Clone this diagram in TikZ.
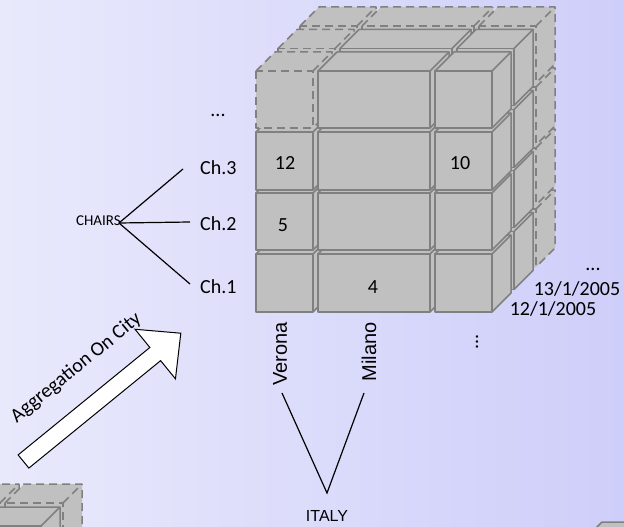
\documentclass[tikz,border=0pt]{standalone}
\usepackage{fontspec}
\setmainfont{Carlito}
\newfontfamily\arialf{Liberation Sans}
\definecolor{cellgray}{RGB}{192,192,192}
\definecolor{edgegray}{RGB}{128,128,128}
\definecolor{bgleft}{RGB}{233,233,252}
\definecolor{bgright}{RGB}{206,206,250}
\tikzset{
  cellbase/.style={line width=1.5pt, line join=round, draw=edgegray, fill=cellgray},
  solidcell/.style={cellbase},
  dashcell/.style={cellbase, dash pattern=on 8pt off 5pt},
  lbl/.style={font=\fontsize{20}{24}\selectfont, inner sep=0pt},
  smalllbl/.style={font=\fontsize{15}{18}\selectfont, inner sep=0pt},
  citylbl/.style={font=\arialf\fontsize{20}{24}\selectfont, inner sep=0pt, rotate=90, anchor=east},
  treeline/.style={line width=1.2pt, draw=black},
  blockarrow/.style={fill=white, draw=black, line width=1pt, line join=miter}
}
\newcommand\drawcell[5]{%
  \path[#5, draw=none] (#1,#4) -- (#3,#4) -- ({#3+19},{#4-19}) -- ({#3+19},{#2-19}) -- ({#1+19},{#2-19}) -- (#1,#2) -- cycle;
  \draw[#5, fill=none] (#1,#2) rectangle (#3,#4);
  \draw[#5, fill=none] (#1,#2) -- ({#1+19},{#2-19}) -- ({#3+19},{#2-19}) -- ({#3+19},{#4-19}) -- (#3,#4);
  \draw[#5, fill=none] (#3,#2) -- ({#3+19},{#2-19});
}
\begin{document}
\begin{tikzpicture}[x=1pt,y=-1pt]
\useasboundingbox (0,0) rectangle (624,527);
\begin{scope}
\clip (0,0) rectangle (624,527);
\fill[left color=bgleft, right color=bgright] (0,0) rectangle (624,527);
% partial cube bottom-left
\drawcell{-55}{503}{0}{580}{dashcell}
\drawcell{5}{503}{63}{580}{dashcell}
\drawcell{-85}{526}{-25}{600}{solidcell}
\drawcell{-20}{526}{41}{600}{solidcell}
% partial cube bottom-right
\drawcell{583}{541}{700}{620}{solidcell}
% main cube
\foreach \l in {2,1,0} {
  \begin{scope}[shift={(22*\l,-22.5*\l)}]
  \foreach \r/\ya/\yb in {4/254/312, 3/193/250, 2/132/190, 1/71/128} {
    \foreach \c/\xa/\xb in {1/256/313, 2/318/430, 3/435/492} {
      \pgfmathtruncatemacro\dsh{or(\l==2, and(\r==1,\c==1))}
      \ifnum\dsh=1
        \drawcell{\xa}{\ya}{\xb}{\yb}{dashcell}
      \else
        \drawcell{\xa}{\ya}{\xb}{\yb}{solidcell}
      \fi
    }
  }
  \end{scope}
}
\end{scope}
% cell values
\node[lbl] (v12) at (285,163) {12};
\node[lbl] (v5) at (283,225) {5};
\node[lbl] (v10) at (460,163) {10};
\node[lbl] (v4) at (373,287) {4};
% chairs dimension
\node[lbl, anchor=base] (cdots) at (218,117) {...};
\node[lbl, anchor=west] (ch3) at (200,168) {Ch.3};
\node[lbl, anchor=west] (ch2) at (200,224) {Ch.2};
\node[lbl, anchor=west] (ch1) at (200,287) {Ch.1};
\node[smalllbl, anchor=east] (chairs) at (121,221) {CHAIRS};
\coordinate (cj) at (119,223);
\coordinate (e3) at (183,169);
\coordinate (e2) at (190,222);
\coordinate (e1) at (190,284);
\draw[treeline] (cj) -- (e3);
\draw[treeline] (cj) -- (e2);
\draw[treeline] (cj) -- (e1);
% dates
\node[lbl, anchor=base] (ddots) at (593,270) {...};
\node[lbl] (d13) at (577,289) {13/1/2005};
\node[lbl] (d12) at (553,309) {12/1/2005};
% cities
\node[citylbl] (verona) at (280,322) {Verona};
\node[citylbl] (milano) at (369,322) {Milano};
\node[lbl, rotate=90, anchor=base] (cityd) at (478,342) {...};
\coordinate (vb) at (282,393);
\coordinate (mb) at (364,393);
\coordinate (apex) at (327,493);
\draw[treeline] (vb) -- (apex) -- (mb);
\node[font=\arialf\fontsize{16}{18}\selectfont, inner sep=0pt] (italy) at (327,516) {ITALY};
% aggregation arrow
\begin{scope}[shift={(23.5,461.5)}, rotate=39.2]
\draw[blockarrow] (0,-8.5) -- (170,-8.5) -- (170,-32) -- (203,0) -- (170,32) -- (170,8.5) -- (0,8.5) -- cycle;
\node[lbl, rotate=39.2, font=\fontsize{20}{24}\selectfont] (agg) at (100,-39) {Aggregation On City};
\end{scope}
\end{tikzpicture}
\end{document}
